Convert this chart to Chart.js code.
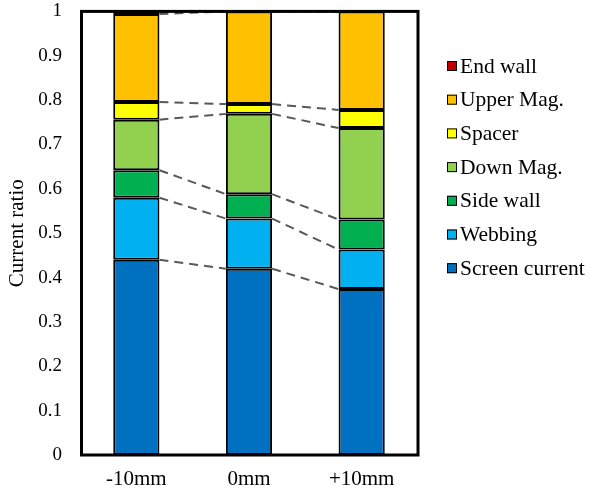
<!DOCTYPE html>
<html>
<head>
<meta charset="utf-8">
<script src="https://cdn.jsdelivr.net/npm/chart.js@4"></script>
<style>
  body { margin: 0; background: #fff; }
  #wrap { width: 590px; height: 493px; }
</style>
</head>
<body>
<div id="wrap"><canvas id="myChart" width="590" height="493"></canvas></div>
<script>
// categories and series (bottom to top)
var categories = ['-10mm', '0mm', '+10mm'];
var screenCurrent = [0.44, 0.42, 0.374];
var webbing = [0.14, 0.113, 0.089];
var sideWall = [0.062, 0.055, 0.068];
var downMag = [0.114, 0.181, 0.206];
var spacer = [0.04, 0.022, 0.041];
var upperMag = [0.198, 0.209, 0.222];
var endWall = [0.006, 0, 0];
var yTicks = [0, 0.1, 0.2, 0.3, 0.4, 0.5, 0.6, 0.7, 0.8, 0.9, 1];

var serif = "'Liberation Serif', 'Times New Roman', serif";

function ds(label, data, color) {
  return {
    label: label,
    data: data,
    backgroundColor: color,
    borderColor: '#000',
    borderWidth: 2,
    borderSkipped: false,
    barPercentage: 0.41,
    categoryPercentage: 1
  };
}

var datasets = [
  ds('Screen current', screenCurrent, '#0070C0'),
  ds('Webbing', webbing, '#00B0F0'),
  ds('Side wall', sideWall, '#00B050'),
  ds('Down Mag.', downMag, '#92D050'),
  ds('Spacer', spacer, '#FFFF00'),
  ds('Upper Mag.', upperMag, '#FFC000'),
  ds('End wall', endWall, '#C00000')
];

// dashed series lines between bars
var seriesLines = {
  id: 'seriesLines',
  beforeDatasetsDraw: function(chart) {
    var ctx = chart.ctx;
    ctx.save();
    ctx.strokeStyle = '#595959';
    ctx.lineWidth = 2;
    ctx.setLineDash([9, 6]);
    chart.data.datasets.forEach(function(d, i) {
      var bars = chart.getDatasetMeta(i).data;
      for (var j = 0; j < bars.length - 1; j++) {
        var a = bars[j], b = bars[j + 1];
        ctx.beginPath();
        ctx.moveTo(a.x + a.width / 2, a.y);
        ctx.lineTo(b.x - b.width / 2, b.y);
        ctx.stroke();
      }
    });
    ctx.restore();
  }
};

// frame around plot area + legend
var frameAndLegend = {
  id: 'frameAndLegend',
  afterDraw: function(chart) {
    var ctx = chart.ctx;
    var a = chart.chartArea;
    ctx.save();
    ctx.strokeStyle = '#000';
    ctx.lineWidth = 3;
    ctx.strokeRect(a.left + 1.5, a.top, a.right - a.left - 1.5, a.bottom - a.top);

    ctx.font = '21.5px ' + serif;
    ctx.textBaseline = 'middle';
    var list = chart.data.datasets.slice().reverse();
    list.forEach(function(d, k) {
      var y = 66 + k * 33.7;
      ctx.fillStyle = d.backgroundColor;
      ctx.fillRect(447, y - 5, 10, 10);
      ctx.lineWidth = 1;
      ctx.strokeStyle = '#000';
      ctx.strokeRect(447.5, y - 4.5, 9, 9);
      ctx.fillStyle = '#000';
      ctx.fillText(d.label, 460, y + 1);
    });
    ctx.restore();
  }
};

var ctx = document.getElementById('myChart').getContext('2d');
var myChart = new Chart(ctx, {
  type: 'bar',
  data: { labels: categories, datasets: datasets },
  options: {
    responsive: false,
    animation: false,
    layout: { padding: { left: 0, top: 3, right: 172, bottom: 0 } },
    plugins: { legend: { display: false }, tooltip: { enabled: false } },
    scales: {
      x: {
        stacked: true,
        grid: { display: false, drawTicks: false },
        border: { display: false },
        ticks: { color: '#000', font: { family: serif, size: 21 }, padding: 12 },
        afterFit: function(s) { s.height = 38; }
      },
      y: {
        stacked: true,
        min: 0,
        max: 1,
        afterBuildTicks: function(s) { s.ticks = yTicks.map(function(v) { return { value: v }; }); },
        grid: { display: false, drawTicks: true, tickLength: 18, tickColor: 'rgba(0,0,0,0)' },
        border: { display: false },
        ticks: { color: '#000', font: { family: serif, size: 19 }, padding: 0,
          callback: function(v) { return String(Math.round(v * 10) / 10); } },
        title: { display: true, text: 'Current ratio', color: '#000',
          font: { family: serif, size: 21 }, padding: { top: 5, bottom: 0 } },
        afterFit: function(s) { s.width = 80; }
      }
    }
  },
  plugins: [seriesLines, frameAndLegend]
});
</script>
</body>
</html>
